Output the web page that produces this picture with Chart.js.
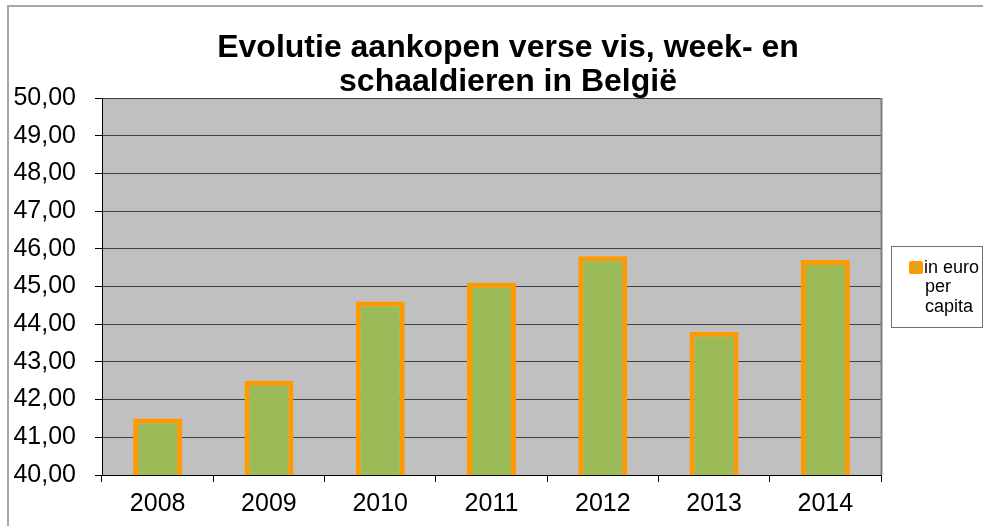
<!DOCTYPE html>
<html>
<head>
<meta charset="utf-8">
<script src="https://cdn.jsdelivr.net/npm/chart.js@4"></script>
<style>
html,body{margin:0;padding:0;background:#fff;}
#wrap{width:984px;height:526px;position:relative;}
</style>
</head>
<body>
<div id="wrap"><canvas id="c" width="984" height="526"></canvas></div>
<script>
const TITLE_LINES = ['Evolutie aankopen verse vis, week- en', 'schaaldieren in België'];
const CATEGORIES = ['2008', '2009', '2010', '2011', '2012', '2013', '2014'];
const VALUES = [41.5, 42.5, 44.6, 45.1, 45.8, 43.8, 45.7];
const SERIES_LABEL = 'in euro per capita';
const Y_MIN = 40, Y_MAX = 50, Y_STEP = 1;

const FONT = '"Liberation Sans", Arial, sans-serif';

const framePlugin = {
  id: 'frame',
  beforeDraw(chart) {
    const ctx = chart.ctx, a = chart.chartArea;
    ctx.save();
    ctx.fillStyle = '#fff';
    ctx.fillRect(0, 0, chart.width, chart.height);
    // outer border
    ctx.strokeStyle = '#a6a6a6';
    ctx.lineWidth = 2;
    ctx.beginPath();
    ctx.moveTo(8, chart.height + 5);
    ctx.lineTo(8, 6);
    ctx.lineTo(983, 6);
    ctx.stroke();
    // plot background
    ctx.fillStyle = '#c0c0c0';
    ctx.fillRect(a.left, a.top, a.right - a.left, a.bottom - a.top);
    // title
    ctx.fillStyle = '#000';
    ctx.font = 'bold 32px ' + FONT;
    ctx.textAlign = 'center';
    ctx.textBaseline = 'alphabetic';
    const cx = 508;
    ctx.fillText(TITLE_LINES[0], cx, 57);
    ctx.fillText(TITLE_LINES[1], cx, 91);
    ctx.restore();
  },
  afterDraw(chart) {
    const ctx = chart.ctx, a = chart.chartArea;
    ctx.save();
    // right plot border
    ctx.strokeStyle = '#808080';
    ctx.lineWidth = 2;
    ctx.beginPath();
    ctx.moveTo(a.right + 0.5, a.top);
    ctx.lineTo(a.right + 0.5, a.bottom);
    ctx.stroke();
    // legend
    const ds = chart.data.datasets[0];
    ctx.fillStyle = '#fff';
    ctx.fillRect(891, 246, 91, 81);
    ctx.strokeStyle = '#707070';
    ctx.lineWidth = 1;
    ctx.strokeRect(891.5, 246.5, 91, 81);
    ctx.fillStyle = ds.borderColor;
    ctx.beginPath();
    ctx.roundRect(909, 261, 14, 13, 2);
    ctx.fill();
    ctx.fillStyle = ds.backgroundColor;
    ctx.fillRect(914, 265, 4, 4);
    ctx.font = '18px ' + FONT;
    ctx.fillStyle = '#000';
    ctx.textAlign = 'left';
    ctx.textBaseline = 'middle';
    const words = ds.label.split(' ');
    const lines = [];
    let cur = '';
    words.forEach(w => {
      const t = cur ? cur + ' ' + w : w;
      if (cur && ctx.measureText(t).width > 60) { lines.push(cur); cur = w; }
      else cur = t;
    });
    if (cur) lines.push(cur);
    lines.forEach((l, i) => ctx.fillText(l, i === 0 ? 924 : 925, 268 + i * 19.5));
    ctx.restore();
  }
};

function zeroPad(scale) {
  scale.paddingTop = 0; scale.paddingBottom = 0;
  scale.paddingLeft = 0; scale.paddingRight = 0;
}

new Chart(document.getElementById('c'), {
  type: 'bar',
  data: {
    labels: CATEGORIES,
    datasets: [{
      label: SERIES_LABEL,
      data: VALUES,
      backgroundColor: '#9bbb59',
      borderColor: '#ff9900',
      borderWidth: 5,
      borderSkipped: false,
      barPercentage: 0.44,
      categoryPercentage: 1
    }]
  },
  options: {
    responsive: false,
    animation: false,
    devicePixelRatio: 1,
    layout: { padding: { left: 0, top: 98, right: 103, bottom: 0 } },
    plugins: {
      legend: { display: false },
      title: { display: false },
      tooltip: { enabled: false }
    },
    scales: {
      x: {
        offset: true,
        afterFit(s) { s.height = 51; zeroPad(s); },
        grid: { offset: true, drawOnChartArea: false, tickLength: 7, color: '#000', lineWidth: 1 },
        border: { color: '#000', width: 1 },
        ticks: { color: '#000', font: { family: FONT, size: 25 }, padding: 7, maxRotation: 0 }
      },
      y: {
        min: Y_MIN, max: Y_MAX,
        afterFit(s) { s.width = 102; zeroPad(s); },
        grid: { color: '#404040', lineWidth: 1, tickLength: 7, tickColor: '#000' },
        border: { color: '#000', width: 1 },
        ticks: {
          stepSize: Y_STEP,
          color: '#000',
          font: { family: FONT, size: 25 },
          padding: 19,
          callback: v => v.toFixed(2).replace('.', ',')
        }
      }
    }
  },
  plugins: [framePlugin]
});
</script>
</body>
</html>
